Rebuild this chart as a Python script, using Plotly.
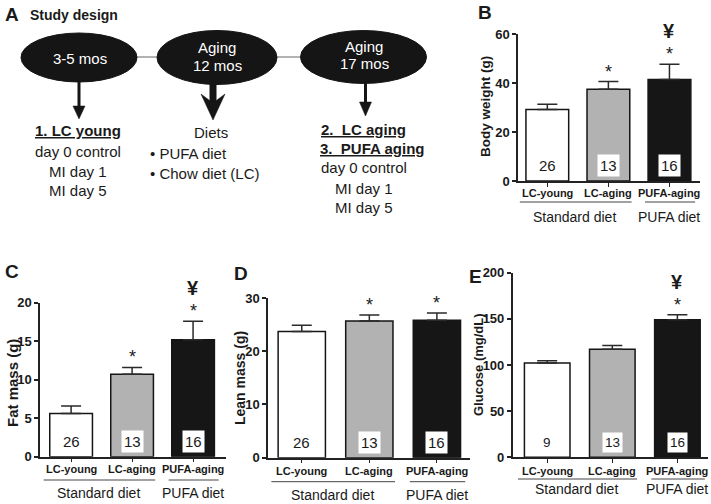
import plotly.graph_objects as go

W, H = 711, 504
FONT = "Liberation Sans, Arial, sans-serif"
INK = "#1a1a1a"


def px(x):
    return x / W


def py(y):
    return 1 - y / H


# ---------------- data ----------------
groups = ["LC-young", "LC-aging", "PUFA-aging"]
bar_colors = ["#ffffff", "#b2b2b2", "#161616"]
diet_groups = ["Standard diet", "PUFA diet"]

body_weight = [29.2, 37.4, 41.4]
body_weight_sem = [2.1, 3.2, 6.3]
body_weight_n = [26, 13, 16]
body_weight_sig = ["", "*", "*"]
body_weight_yen = ["", "", "¥"]

fat_mass = [5.6, 10.7, 15.2]
fat_mass_sem = [1.0, 0.9, 2.4]
fat_mass_n = [26, 13, 16]
fat_mass_sig = ["", "*", "*"]
fat_mass_yen = ["", "", "¥"]

lean_mass = [23.7, 25.7, 25.8]
lean_mass_sem = [1.2, 1.1, 1.4]
lean_mass_n = [26, 13, 16]
lean_mass_sig = ["", "*", "*"]
lean_mass_yen = ["", "", ""]

glucose = [102.2, 117.0, 149.0]
glucose_sem = [2.5, 4.0, 5.5]
glucose_n = [9, 13, 16]
glucose_sig = ["", "", "*"]
glucose_yen = ["", "", "¥"]

# ---------------- panel geometry (pixels) ----------------
panels = [
    dict(key="", letter="B", title="Body weight (g)", vals=body_weight, sem=body_weight_sem,
         n=body_weight_n, sig=body_weight_sig, yen=body_weight_yen,
         xd=(518, 700), xr=(-0.48, 2.5), yd=(34, 181), yr=(0, 60), dt=20,
         lab_y=193, line_y=202, grp_y=217, title_xy=(485, 107), letter_xy=(485, 12),
         nsize=15, tsize=13.5, ticksize=13),
    dict(key="2", letter="C", title="Fat mass (g)", vals=fat_mass, sem=fat_mass_sem,
         n=fat_mass_n, sig=fat_mass_sig, yen=fat_mass_yen,
         xd=(40, 226), xr=(-0.51, 2.54), yd=(302.7, 456.7), yr=(0, 20), dt=5,
         lab_y=469, line_y=480, grp_y=493, title_xy=(12, 383), letter_xy=(12, 271),
         nsize=15, tsize=15, ticksize=13),
    dict(key="3", letter="D", title="Lean mass (g)", vals=lean_mass, sem=lean_mass_sem,
         n=lean_mass_n, sig=lean_mass_sig, yen=lean_mass_yen,
         xd=(268, 470), xr=(-0.5, 2.49), yd=(298, 457.7), yr=(0, 30), dt=10,
         lab_y=470.7, line_y=481.7, grp_y=495, title_xy=(240, 378), letter_xy=(241, 273),
         nsize=15, tsize=14, ticksize=13),
    dict(key="4", letter="E", title="Glucose (mg/dL)", vals=glucose, sem=glucose_sem,
         n=glucose_n, sig=glucose_sig, yen=glucose_yen,
         xd=(512.7, 708), xr=(-0.53, 2.47), yd=(272.7, 457.3), yr=(0, 200), dt=50,
         lab_y=470.7, line_y=479, grp_y=489, title_xy=(478, 365), letter_xy=(475, 276),
         nsize=13.5, tsize=13, ticksize=13),
]

fig = go.Figure()
annotations = []
shapes = []
layout_axes = {}

for p in panels:
    k = p["key"]
    xa, ya = "x" + k, "y" + k
    fig.add_trace(go.Bar(
        x=list(range(len(groups))), y=p["vals"], xaxis=xa, yaxis=ya,
        width=0.7,
        marker=dict(color=bar_colors, line=dict(color="#151515", width=1.5)),
        error_y=dict(type="data", symmetric=False, array=p["sem"],
                     arrayminus=[0] * len(groups), color="#2a2a2a",
                     thickness=1.5, width=10),
        hoverinfo="skip",
    ))
    layout_axes["xaxis" + k] = dict(
        domain=[px(p["xd"][0]), px(p["xd"][1])], range=list(p["xr"]), anchor=ya,
        automargin=False,
        showline=True, linecolor="#222222", linewidth=1.5, showgrid=False, zeroline=False,
        tickmode="array", tickvals=list(range(len(groups))), ticktext=[""] * len(groups),
        ticks="outside", ticklen=4, tickwidth=1.2, tickcolor="#222222", fixedrange=True,
    )
    layout_axes["yaxis" + k] = dict(
        domain=[py(p["yd"][1]), py(p["yd"][0])], range=list(p["yr"]), anchor=xa,
        automargin=False,
        showline=True, linecolor="#222222", linewidth=1.5, showgrid=False, zeroline=False,
        dtick=p["dt"], tick0=0, ticks="outside", ticklen=4, tickwidth=1.5, tickcolor="#222222",
        tickfont=dict(family=FONT, size=p["ticksize"], color=INK, weight="bold"), fixedrange=True,
    )
    # category labels
    for i, g in enumerate(groups):
        annotations.append(dict(xref=xa, yref="paper", x=i, y=py(p["lab_y"]), text="<b>" + g + "</b>",
                                showarrow=False, xanchor="center", yanchor="middle",
                                font=dict(family=FONT, size=11, color=INK)))
        # n numbers
        annotations.append(dict(xref=xa, yref=ya, x=i, y=0, text=str(p["n"][i]),
                                showarrow=False, xanchor="center", yanchor="bottom", yshift=4,
                                bgcolor="#ffffff", borderpad=2,
                                font=dict(family=FONT, size=p["nsize"], color=INK)))
        top = p["vals"][i] + p["sem"][i]
        if p["sig"][i]:
            annotations.append(dict(xref=xa, yref=ya, x=i, y=top, text=p["sig"][i],
                                    showarrow=False, xanchor="center", yanchor="middle", yshift=10,
                                    font=dict(family=FONT, size=18, color=INK)))
        if p["yen"][i]:
            annotations.append(dict(xref=xa, yref=ya, x=i, y=top, text="<b>" + p["yen"][i] + "</b>",
                                    showarrow=False, xanchor="center", yanchor="middle", yshift=33,
                                    font=dict(family=FONT, size=20, color=INK)))
    # diet group brackets
    shapes.append(dict(type="line", xref=xa, yref="paper", x0=-0.45, x1=1.38,
                       y0=py(p["line_y"]), y1=py(p["line_y"]), line=dict(color="#444444", width=1)))
    shapes.append(dict(type="line", xref=xa, yref="paper", x0=1.6, x1=2.42,
                       y0=py(p["line_y"]), y1=py(p["line_y"]), line=dict(color="#444444", width=1)))
    annotations.append(dict(xref=xa, yref="paper", x=0.45, y=py(p["grp_y"]), text=diet_groups[0],
                            showarrow=False, xanchor="center", yanchor="middle",
                            font=dict(family=FONT, size=14, color=INK)))
    annotations.append(dict(xref=xa, yref="paper", x=2.0, y=py(p["grp_y"]), text=diet_groups[1],
                            showarrow=False, xanchor="center", yanchor="middle",
                            font=dict(family=FONT, size=14, color=INK)))
    # y title
    annotations.append(dict(xref="paper", yref="paper", x=px(p["title_xy"][0]), y=py(p["title_xy"][1]),
                            text="<b>" + p["title"] + "</b>", textangle=-90, showarrow=False,
                            xanchor="center", yanchor="middle",
                            font=dict(family=FONT, size=p["tsize"], color=INK)))
    # panel letter
    annotations.append(dict(xref="paper", yref="paper", x=px(p["letter_xy"][0]), y=py(p["letter_xy"][1]),
                            text="<b>" + p["letter"] + "</b>", showarrow=False,
                            xanchor="center", yanchor="middle",
                            font=dict(family=FONT, size=19, color=INK)))

# ---------------- panel A : study design ----------------
def ell(cx, cy, rx, ry):
    return dict(type="circle", xref="paper", yref="paper",
                x0=px(cx - rx), x1=px(cx + rx), y0=py(cy + ry), y1=py(cy - ry),
                fillcolor="#151515", line=dict(color="#151515", width=1), layer="above")


def pline(x0, y0, x1, y1, w, c="#151515"):
    return dict(type="line", xref="paper", yref="paper", x0=px(x0), y0=py(y0), x1=px(x1), y1=py(y1),
                line=dict(color=c, width=w))


def ppath(pts):
    d = "M " + " L ".join(f"{px(x):.5f},{py(y):.5f}" for x, y in pts) + " Z"
    return dict(type="path", xref="paper", yref="paper", path=d,
                fillcolor="#151515", line=dict(color="#151515", width=0.5))


shapes += [
    pline(137, 57, 157, 57, 1, "#666666"),
    pline(277, 57, 300, 57, 1, "#666666"),
    ell(79, 57.5, 58, 24.5),
    ell(217, 57.5, 60, 27),
    ell(363.5, 57, 63, 26.5),
    pline(79, 80, 79, 108, 3),
    ppath([(73, 106), (85, 106), (79, 119)]),
    pline(213, 84, 213, 104, 7),
    ppath([(201, 94), (213, 103), (225, 94), (213, 120)]),
    pline(365.5, 82, 365.5, 104, 3),
    ppath([(359.5, 102), (371.5, 102), (365.5, 116)]),
]


def txt(x, y, s, size=15, anchor="center", color=INK, under=False, bold=False):
    f = dict(family=FONT, size=size, color=color)
    if under:
        f["lineposition"] = "under"
    annotations.append(dict(xref="paper", yref="paper", x=px(x), y=py(y),
                            text=("<b>" + s + "</b>") if bold else s, showarrow=False,
                            xanchor=anchor, yanchor="middle", font=f))


txt(12, 14, "A", size=19, bold=True)
txt(28, 15, "Study design", size=14, anchor="left", bold=True)
txt(80, 58, "3-5 mos", color="#ffffff")
txt(217, 47, "Aging", color="#ffffff")
txt(217, 65, "12 mos", color="#ffffff")
txt(364, 46, "Aging", color="#ffffff")
txt(364, 63, "17 mos", color="#ffffff")
txt(78, 131, "1. LC young", bold=True, under=True)
txt(78, 151, "day 0 control")
txt(78, 171, "MI day 1")
txt(78, 190, "MI day 5")
txt(211, 133, "Diets")
txt(148, 153, "• PUFA diet", anchor="left")
txt(148, 173, "• Chow diet (LC)", anchor="left")
txt(319, 129, "2.  LC aging", anchor="left", bold=True, under=True)
txt(318, 148, "3.  PUFA aging", anchor="left", bold=True, under=True)
txt(319, 168, "day 0 control", anchor="left")
txt(364, 188, "MI day 1")
txt(364, 207, "MI day 5")

fig.update_layout(
    template="none",
    width=W, height=H, margin=dict(l=0, r=0, t=0, b=0, pad=0, autoexpand=False),
    paper_bgcolor="#ffffff", plot_bgcolor="#ffffff", showlegend=False,
    bargap=0.3, annotations=annotations, shapes=shapes,
    font=dict(family=FONT, color=INK),
    **layout_axes,
)

fig.write_html("out.html", config={"displayModeBar": False},
               post_script="document.body.style.margin='0px';document.body.style.overflow='hidden';")
